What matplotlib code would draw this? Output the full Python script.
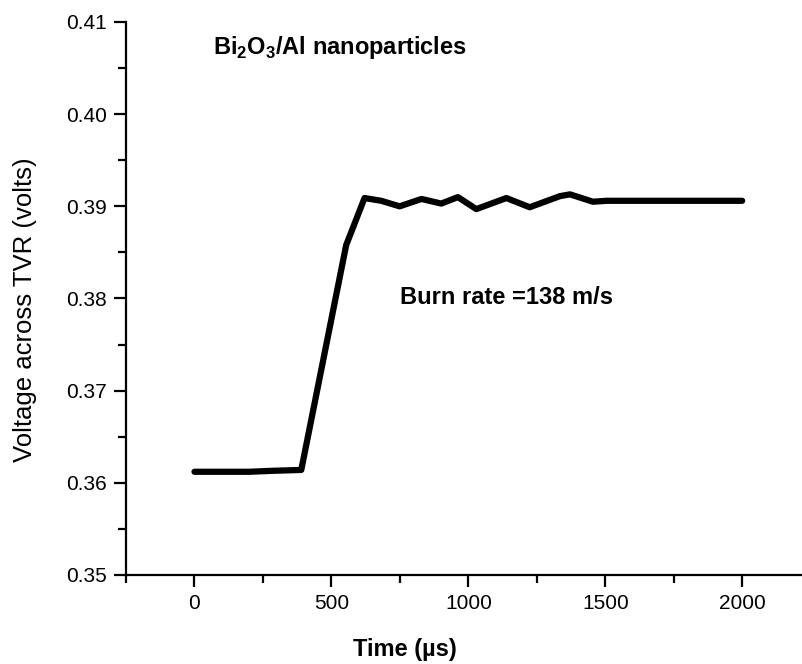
#!/usr/bin/env python3
"""Voltage across TVR vs time for Bi2O3/Al nanoparticle burn."""

import matplotlib

matplotlib.use("Agg")
import matplotlib.pyplot as plt
from matplotlib.ticker import MultipleLocator

plt.rcParams["font.family"] = ["Liberation Sans", "DejaVu Sans"]
plt.rcParams["mathtext.fontset"] = "custom"
plt.rcParams["mathtext.rm"] = "Liberation Sans"
plt.rcParams["mathtext.bf"] = "Liberation Sans:bold"

# data
time_us = [0, 100, 200, 280, 390, 554, 621, 682, 749, 829, 901, 962, 1029,
           1139, 1224, 1334, 1371, 1455, 1505, 2000]
voltage = [0.3612, 0.3612, 0.3612, 0.3613, 0.3614, 0.3858, 0.3909, 0.3906,
           0.3900, 0.3908, 0.3903, 0.3910, 0.3897, 0.3909, 0.3899, 0.3911,
           0.3913, 0.3905, 0.3906, 0.3906]

x_ticks = [0, 500, 1000, 1500, 2000]
y_ticks = [0.35, 0.36, 0.37, 0.38, 0.39, 0.40, 0.41]


def main() -> None:
    fig = plt.figure(figsize=(8.03, 6.64), dpi=100)
    ax = fig.add_axes([126 / 803, 1 - 575 / 664, 1 - 126 / 803, (575 - 22) / 664])

    ax.plot(time_us, voltage, color="black", lw=4.5, solid_capstyle="round", clip_on=False)

    ax.set_xlim(-250, 2222)
    ax.set_ylim(0.35, 0.41)
    ax.set_xticks(x_ticks)
    ax.set_yticks(y_ticks)
    ax.set_xticklabels([str(t) for t in x_ticks])
    ax.set_yticklabels([f"{v:.2f}" for v in y_ticks])
    ax.xaxis.set_minor_locator(MultipleLocator(250))
    ax.yaxis.set_minor_locator(MultipleLocator(0.005))

    for side in ("top", "right"):
        ax.spines[side].set_visible(False)
    for side in ("left", "bottom"):
        ax.spines[side].set_linewidth(1.6)

    ax.tick_params(which="major", direction="out", length=8.5, width=1.6, labelsize=15, pad=5)
    ax.tick_params(which="minor", direction="out", length=5.5, width=1.6)

    ax.set_xlabel("Time (\u00b5s)", fontsize=17, fontweight="bold")
    ax.xaxis.set_label_coords((405 - 126) / 677, -(638 - 575) / 553)
    ax.set_ylabel("Voltage across TVR (volts)", fontsize=18.5)
    ax.yaxis.set_label_coords((37 - 126) / 677, 1 - (310 - 22) / 553)

    ax.text(66, 0.4072, "Bi$_\\mathbf{2}$O$_\\mathbf{3}$/Al nanoparticles", fontsize=17,
            fontweight="bold", va="center", ha="left")
    ax.text(749, 0.3801, "Burn rate =138 m/s", fontsize=17, fontweight="bold",
            va="center", ha="left")

    fig.savefig("out.png", dpi=100)


if __name__ == "__main__":
    main()
